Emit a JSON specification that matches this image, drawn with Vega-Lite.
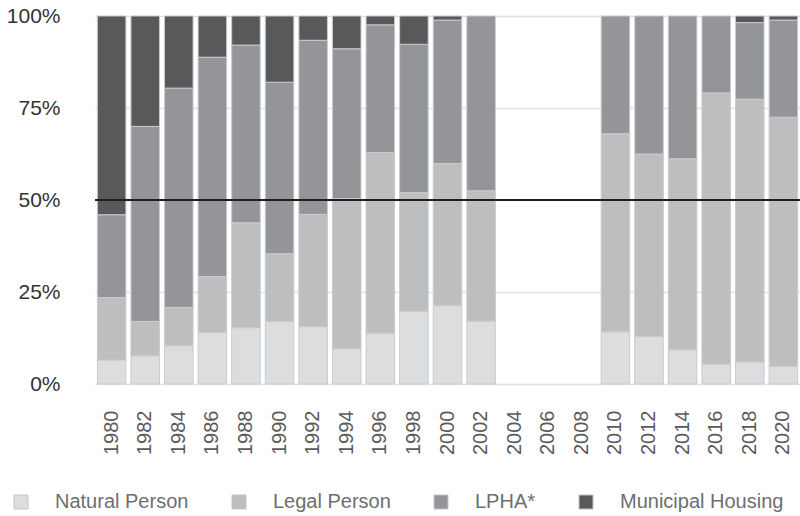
{
  "$schema": "https://vega.github.io/schema/vega-lite/v6.json",
  "width": 705,
  "height": 368,
  "autosize": "none",
  "padding": {"left": 95, "top": 16, "right": 0, "bottom": 132},
  "background": "white",
  "config": {"font": "Liberation Sans", "view": {"stroke": null}},
  "data": {"values": [
    {"year": "1980", "category": "Natural Person", "value": 6.5},
    {"year": "1980", "category": "Legal Person", "value": 17.0},
    {"year": "1980", "category": "LPHA*", "value": 22.5},
    {"year": "1980", "category": "Municipal Housing", "value": 54.0},
    {"year": "1982", "category": "Natural Person", "value": 7.7},
    {"year": "1982", "category": "Legal Person", "value": 9.3},
    {"year": "1982", "category": "LPHA*", "value": 53.0},
    {"year": "1982", "category": "Municipal Housing", "value": 30.0},
    {"year": "1984", "category": "Natural Person", "value": 10.4},
    {"year": "1984", "category": "Legal Person", "value": 10.4},
    {"year": "1984", "category": "LPHA*", "value": 59.6},
    {"year": "1984", "category": "Municipal Housing", "value": 19.6},
    {"year": "1986", "category": "Natural Person", "value": 14.0},
    {"year": "1986", "category": "Legal Person", "value": 15.2},
    {"year": "1986", "category": "LPHA*", "value": 59.6},
    {"year": "1986", "category": "Municipal Housing", "value": 11.2},
    {"year": "1988", "category": "Natural Person", "value": 15.3},
    {"year": "1988", "category": "Legal Person", "value": 28.5},
    {"year": "1988", "category": "LPHA*", "value": 48.3},
    {"year": "1988", "category": "Municipal Housing", "value": 7.9},
    {"year": "1990", "category": "Natural Person", "value": 17.0},
    {"year": "1990", "category": "Legal Person", "value": 18.4},
    {"year": "1990", "category": "LPHA*", "value": 46.6},
    {"year": "1990", "category": "Municipal Housing", "value": 18.0},
    {"year": "1992", "category": "Natural Person", "value": 15.6},
    {"year": "1992", "category": "Legal Person", "value": 30.5},
    {"year": "1992", "category": "LPHA*", "value": 47.3},
    {"year": "1992", "category": "Municipal Housing", "value": 6.6},
    {"year": "1994", "category": "Natural Person", "value": 9.6},
    {"year": "1994", "category": "Legal Person", "value": 40.8},
    {"year": "1994", "category": "LPHA*", "value": 40.7},
    {"year": "1994", "category": "Municipal Housing", "value": 8.9},
    {"year": "1996", "category": "Natural Person", "value": 13.8},
    {"year": "1996", "category": "Legal Person", "value": 49.1},
    {"year": "1996", "category": "LPHA*", "value": 34.7},
    {"year": "1996", "category": "Municipal Housing", "value": 2.4},
    {"year": "1998", "category": "Natural Person", "value": 19.7},
    {"year": "1998", "category": "Legal Person", "value": 32.3},
    {"year": "1998", "category": "LPHA*", "value": 40.3},
    {"year": "1998", "category": "Municipal Housing", "value": 7.7},
    {"year": "2000", "category": "Natural Person", "value": 21.3},
    {"year": "2000", "category": "Legal Person", "value": 38.6},
    {"year": "2000", "category": "LPHA*", "value": 39.0},
    {"year": "2000", "category": "Municipal Housing", "value": 1.1},
    {"year": "2002", "category": "Natural Person", "value": 17.1},
    {"year": "2002", "category": "Legal Person", "value": 35.4},
    {"year": "2002", "category": "LPHA*", "value": 47.5},
    {"year": "2010", "category": "Natural Person", "value": 14.2},
    {"year": "2010", "category": "Legal Person", "value": 53.8},
    {"year": "2010", "category": "LPHA*", "value": 32.0},
    {"year": "2012", "category": "Natural Person", "value": 12.9},
    {"year": "2012", "category": "Legal Person", "value": 49.6},
    {"year": "2012", "category": "LPHA*", "value": 37.5},
    {"year": "2014", "category": "Natural Person", "value": 9.3},
    {"year": "2014", "category": "Legal Person", "value": 51.9},
    {"year": "2014", "category": "LPHA*", "value": 38.8},
    {"year": "2016", "category": "Natural Person", "value": 5.4},
    {"year": "2016", "category": "Legal Person", "value": 73.7},
    {"year": "2016", "category": "LPHA*", "value": 20.9},
    {"year": "2018", "category": "Natural Person", "value": 6.0},
    {"year": "2018", "category": "Legal Person", "value": 71.4},
    {"year": "2018", "category": "LPHA*", "value": 20.8},
    {"year": "2018", "category": "Municipal Housing", "value": 1.8},
    {"year": "2020", "category": "Natural Person", "value": 4.8},
    {"year": "2020", "category": "Legal Person", "value": 67.7},
    {"year": "2020", "category": "LPHA*", "value": 26.4},
    {"year": "2020", "category": "Municipal Housing", "value": 1.1}
  ]},
  "layer": [
    {
      "transform": [
        {"calculate": "indexof(['Natural Person','Legal Person','LPHA*','Municipal Housing'], datum.category)", "as": "stackRank"}
      ],
      "mark": {"type": "bar", "stroke": "#cbcbcc", "strokeWidth": 1},
      "encoding": {
        "x": {
          "field": "year", "type": "ordinal",
          "scale": {
            "domain": ["1980","1982","1984","1986","1988","1990","1992","1994","1996","1998","2000","2002","2004","2006","2008","2010","2012","2014","2016","2018","2020"],
            "paddingInner": 0.15, "paddingOuter": 0.07
          },
          "axis": {
            "title": null, "labelAngle": 270, "ticks": false, "domain": false,
            "labelPadding": 26, "labelFontSize": 20, "labelColor": "#5a5a5c",
            "labelFont": "Liberation Sans"
          }
        },
        "y": {
          "field": "value", "type": "quantitative", "stack": "normalize",
          "scale": {"domain": [0, 1]},
          "axis": {
            "title": null, "format": "%", "values": [0, 0.25, 0.5, 0.75, 1],
            "ticks": false, "domain": false, "grid": true, "gridColor": "#e2e2e3",
            "gridWidth": 1.5,
            "labelFontSize": 21, "labelColor": "#333333", "labelPadding": 35,
            "labelFont": "Liberation Sans"
          }
        },
        "color": {
          "field": "category", "type": "nominal",
          "sort": ["Natural Person", "Legal Person", "LPHA*", "Municipal Housing"],
          "scale": {
            "domain": ["Natural Person", "Legal Person", "LPHA*", "Municipal Housing"],
            "range": ["#dcdddf", "#bdbec0", "#939598", "#58595b"]
          },
          "legend": {
            "title": null, "orient": "none", "direction": "horizontal",
            "legendX": -84, "legendY": 476,
            "symbolType": "square", "symbolSize": 196,
            "symbolStrokeColor": "#c4c4c6", "symbolStrokeWidth": 1,
            "labelFontSize": 20, "labelColor": "#6d6e70", "labelOffset": 24,
            "columnPadding": 40, "labelFont": "Liberation Sans",
            "labelLimit": 300
          }
        },
        "order": {"field": "stackRank", "type": "quantitative", "sort": "ascending"}
      }
    },
    {
      "mark": {"type": "rule", "color": "#231f20", "strokeWidth": 1},
      "encoding": {"y": {"datum": 0.5}}
    }
  ]
}
